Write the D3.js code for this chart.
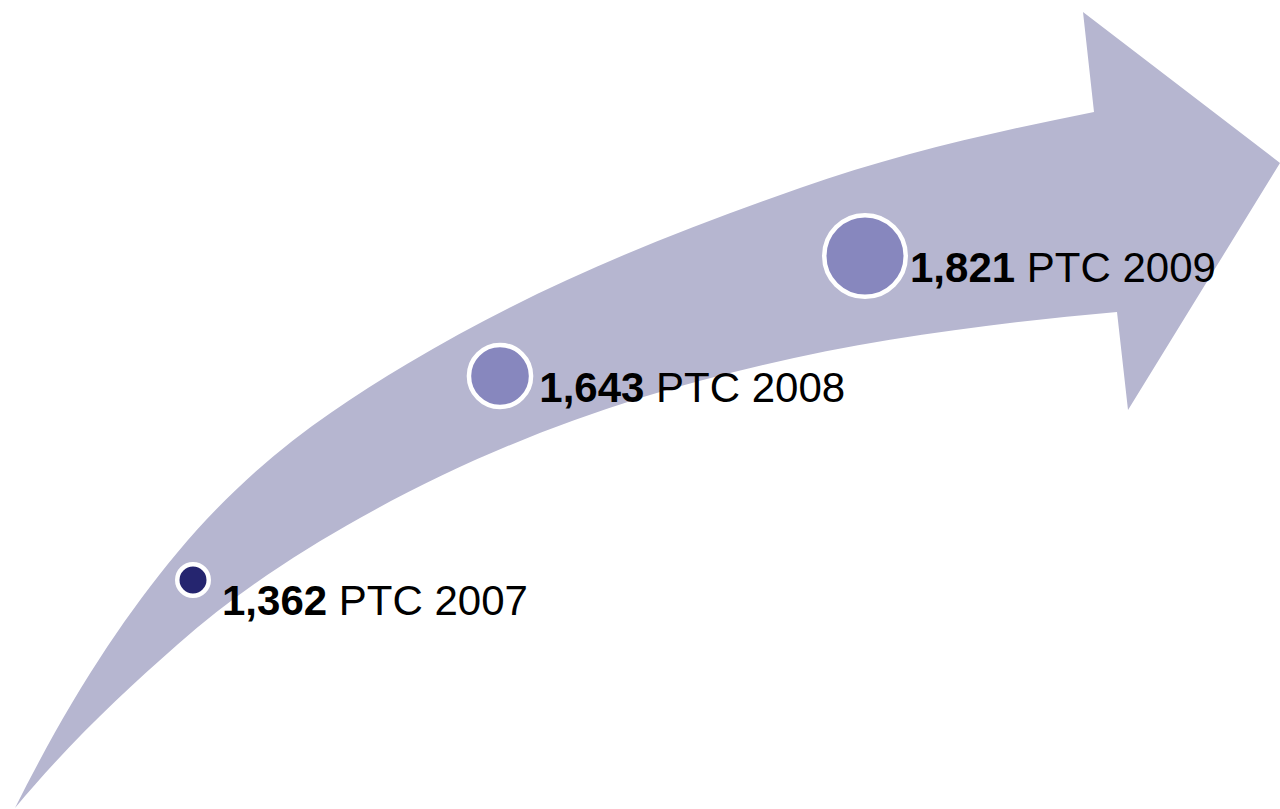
<!DOCTYPE html>
<html>
<head>
<meta charset="utf-8">
<script src="https://cdn.jsdelivr.net/npm/d3@7"></script>
<style>
  html, body { margin: 0; padding: 0; background: #ffffff; }
  svg { display: block; }
  text { font-family: "Liberation Sans", Arial, sans-serif; }
</style>
</head>
<body>
<svg id="chart" width="1280" height="809"></svg>
<script>
// Data
const years = ["2007", "2008", "2009"];
const ptcCounts = [1362, 1643, 1821];
const unitLabel = "PTC";

// Arrow outline (decoration): [x, y, slope]
const upperKnots = [
    [15, 808, -2.0], [177, 553, -1.2], [407, 364, -0.6], [800, 188, -0.35], [1094, 112, -0.2]
];
const arrowHead = [[1083, 12], [1280, 163], [1128, 410], [1117, 312]];
const lowerKnots = [
    [1117, 312, -0.09], [640, 398, -0.31], [360, 518, -0.56], [177, 645, -0.88], [15, 808, -1.2]
];

// Layout
const width = 1280;
const height = 809;
const pointX = [193, 500, 865];
const pointY = [580, 376, 256];
const labelShift = [[11, 35], [6, 26], [2, 26]];
const strokeW = 4.5;

const svg = d3.select("#chart");

const x = d3.scaleOrdinal().domain(years).range(pointX);
const y = d3.scaleOrdinal().domain(years).range(pointY);
const r = d3.scaleLinear().domain(d3.extent(ptcCounts)).range([18, 43]);
const fill = d3.scaleOrdinal().domain(years).range(["#25256f", "#8787be", "#8787be"]);

// Smooth edge through knots with given slopes (Hermite -> Bezier)
function addEdge(p, knots) {
    for (let i = 0; i < knots.length - 1; i++) {
        const [x0, y0, m0] = knots[i];
        const [x1, y1, m1] = knots[i + 1];
        const h = (x1 - x0) / 3;
        p.bezierCurveTo(x0 + h, y0 + m0 * h, x1 - h, y1 - m1 * h, x1, y1);
    }
}

const arrow = d3.path();
arrow.moveTo(upperKnots[0][0], upperKnots[0][1]);
addEdge(arrow, upperKnots);
arrowHead.forEach(pt => arrow.lineTo(pt[0], pt[1]));
addEdge(arrow, lowerKnots);
arrow.closePath();

svg.append("path")
    .attr("d", arrow.toString())
    .attr("fill", "#b6b6d0");

const points = years.map((yr, i) => ({ year: yr, value: ptcCounts[i], i: i }));

// Circles
svg.selectAll("circle.pt")
    .data(points)
    .enter()
    .append("circle")
    .attr("class", "pt")
    .attr("cx", d => x(d.year))
    .attr("cy", d => y(d.year))
    .attr("r", d => r(d.value) - strokeW / 2)
    .attr("fill", d => fill(d.year))
    .attr("stroke", "#ffffff")
    .attr("stroke-width", strokeW);

// Labels
const fmt = d3.format(",");
const labels = svg.selectAll("text.lbl")
    .data(points)
    .enter()
    .append("text")
    .attr("class", "lbl")
    .attr("x", d => x(d.year) + r(d.value) + labelShift[d.i][0])
    .attr("y", d => y(d.year) + labelShift[d.i][1])
    .attr("font-size", 42)
    .attr("fill", "#000000");

labels.append("tspan")
    .attr("font-weight", "bold")
    .text(d => fmt(d.value));
labels.append("tspan")
    .text(d => " " + unitLabel + " " + d.year);
</script>
</body>
</html>
